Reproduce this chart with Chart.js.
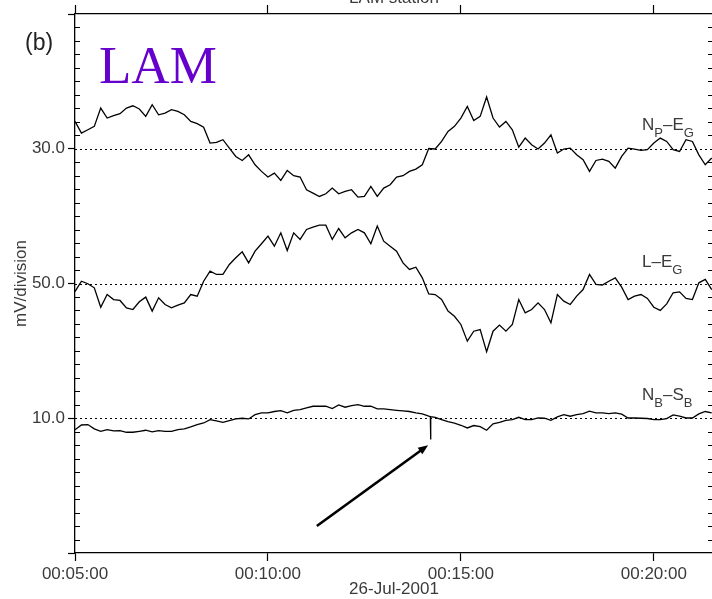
<!DOCTYPE html>
<html>
<head>
<meta charset="utf-8">
<title>LAM station</title>
<script src="https://cdn.jsdelivr.net/npm/chart.js@4.4.0/dist/chart.umd.min.js"></script>
<style>
  html, body { margin: 0; padding: 0; background: #fff; overflow: hidden; }
  #wrap { position: relative; width: 712px; height: 599px; overflow: hidden; }
  #grafico { position: absolute; left: 0; top: 0; }
</style>
</head>
<body>
<div id="wrap"><canvas id="grafico" width="720" height="599"></canvas></div>
<script>
// sample times (seconds after 00:00:00, 26-Jul-2001)
var tempos = [
  300, 310, 320, 330, 340, 350, 360, 370, 380, 390,
  400, 410, 420, 430, 440, 450, 460, 470, 480, 490,
  500, 510, 520, 530, 540, 550, 560, 570, 580, 590,
  600, 610, 620, 630, 640, 650, 660, 670, 680, 690,
  700, 710, 720, 730, 740, 750, 760, 770, 780, 790,
  800, 810, 820, 830, 840, 850, 860, 870, 880, 890,
  900, 910, 920, 930, 940, 950, 960, 970, 980, 990,
  1000, 1010, 1020, 1030, 1040, 1050, 1060, 1070, 1080, 1090,
  1100, 1110, 1120, 1130, 1140, 1150, 1160, 1170, 1180, 1190,
  1200, 1210, 1220, 1230, 1240, 1250, 1260, 1270, 1280, 1290
];

// dipole signals, in divisions away from each trace's baseline
var npEg = [
  2.03, 1.16, 1.41, 1.66, 3.02, 2.28, 2.45, 2.60, 3.02, 3.19,
  2.95, 2.40, 3.27, 2.52, 2.65, 2.90, 2.77, 2.52, 2.03, 1.86,
  1.60, 0.42, 0.47, 0.67, 0.05, -0.57, -0.87, -0.45, -1.19, -1.68,
  -2.10, -1.81, -2.35, -1.61, -2.00, -2.10, -3.04, -3.29, -3.54, -3.34,
  -2.92, -3.34, -3.17, -3.04, -3.59, -3.54, -2.80, -3.54, -2.92, -2.67,
  -2.10, -2.00, -1.68, -1.51, -1.19, 0.02, -0.02, 0.54, 1.29, 1.66,
  2.28, 3.14, 2.10, 2.40, 3.84, 2.28, 1.61, 2.03, 1.41, 0.12,
  0.79, 0.30, -0.02, 0.42, 1.04, -0.32, -0.02, 0.05, -0.45, -0.82,
  -1.68, -0.87, -0.77, -0.94, -1.44, -0.57, 0.05, -0.02, -0.12, -0.07,
  0.42, 0.79, 0.54, -0.07, -0.20, 0.67, 0.54, -0.45, -1.19, -0.69
];
var lEg = [
  -0.60, 0.17, -0.02, -0.32, -1.76, -0.82, -1.19, -1.26, -1.81, -1.93,
  -1.36, -1.01, -2.05, -1.06, -1.56, -1.81, -1.61, -1.44, -0.82, -0.94,
  0.17, 0.92, 0.67, 0.67, 1.41, 1.91, 2.35, 1.53, 2.40, 2.95,
  3.51, 2.77, 3.76, 2.45, 3.76, 3.27, 4.01, 4.18, 4.33, 4.33,
  3.27, 4.08, 3.39, 3.76, 4.01, 3.76, 2.95, 4.26, 3.14, 2.77,
  2.40, 1.53, 1.04, 1.21, 0.42, -0.77, -0.82, -1.19, -2.05, -2.43,
  -3.04, -4.28, -3.54, -3.42, -5.07, -3.54, -3.09, -3.54, -3.04, -1.19,
  -2.18, -1.93, -1.44, -1.93, -2.92, -0.82, -1.31, -1.56, -0.94, -0.45,
  0.67, -0.07, -0.12, 0.17, 0.42, -0.27, -1.19, -0.94, -0.82, -1.11,
  -1.76, -2.00, -1.51, -0.69, -0.62, -1.11, -1.19, 0.05, 0.30, -0.45
];
var nbSb = [
  -0.85, -0.50, -0.47, -0.79, -0.97, -0.84, -0.94, -0.92, -1.04, -1.04,
  -0.97, -0.89, -1.01, -0.92, -0.97, -0.97, -0.84, -0.79, -0.64, -0.47,
  -0.35, -0.10, -0.20, -0.30, -0.17, -0.05, 0.00, -0.05, 0.27, 0.40,
  0.40, 0.50, 0.57, 0.40, 0.59, 0.64, 0.77, 0.89, 0.89, 0.89,
  0.72, 0.99, 0.82, 0.94, 1.01, 0.89, 0.89, 0.69, 0.69, 0.64,
  0.59, 0.54, 0.50, 0.40, 0.32, 0.15, 0.07, -0.10, -0.25, -0.37,
  -0.52, -0.72, -0.54, -0.62, -0.89, -0.42, -0.30, -0.15, -0.10, 0.07,
  -0.10, -0.10, 0.02, 0.00, -0.15, 0.10, 0.27, 0.15, 0.27, 0.35,
  0.52, 0.40, 0.40, 0.35, 0.40, 0.30, 0.02, 0.02, 0.00, -0.02,
  -0.10, -0.10, -0.02, 0.25, 0.15, 0.02, 0.02, 0.32, 0.50, 0.40
];
// short glitch on N_B-S_B
var picoTempos = [852.5, 852.9, 853.3];
var picoValores = [0.12, -1.58, 0.11];

// baselines (axis units) and the mV/division scale shown on each
var linhasBase = [30, 20, 10];
var escalas = ["30.0", "50.0", "10.0"];
var marcasX = [300, 600, 900, 1200];

// arrow pointing at the glitch: [time, axis units]
var setaInicio = [676, 2.0];
var setaFim = [849, 8.0];

const FONTE = "'Liberation Sans', Arial, sans-serif";
const CINZA = "#3a3a3a";

function fmtTempo(s) {
  var h = Math.floor(s / 3600);
  var m = Math.floor((s % 3600) / 60);
  var ss = Math.round(s % 60);
  return [h, m, ss].map(function (n) { return String(n).padStart(2, "0"); }).join(":");
}

function pontos(valores, base, extraT, extraV) {
  var pts = tempos.map(function (t, i) { return { x: t, y: base + valores[i] }; });
  if (extraT) {
    extraT.forEach(function (t, i) { pts.push({ x: t, y: base + extraV[i] }); });
    pts.sort(function (a, b) { return a.x - b.x; });
  }
  return pts;
}

// text with subscripts: parts = [[text, isSub], ...]
function textoSub(ctx, parts, x, y) {
  parts.forEach(function (p) {
    ctx.font = (p[1] ? "13px " : "17px ") + FONTE;
    ctx.fillText(p[0], x, p[1] ? y + 7 : y);
    x += ctx.measureText(p[0]).width;
  });
}

const extras = {
  id: "extras",
  beforeDatasetsDraw(chart) {
    const ctx = chart.ctx;
    const a = chart.chartArea;
    const y = chart.scales.y;
    ctx.save();
    ctx.strokeStyle = "#000";
    ctx.lineWidth = 1;
    ctx.setLineDash([2, 3]);
    linhasBase.forEach(function (b) {
      var py = Math.round(y.getPixelForValue(b)) + 0.5;
      ctx.beginPath();
      ctx.moveTo(a.left, py);
      ctx.lineTo(a.right, py);
      ctx.stroke();
    });
    ctx.restore();
  },
  afterDraw(chart) {
    const ctx = chart.ctx;
    const a = chart.chartArea;
    const x = chart.scales.x;
    const y = chart.scales.y;
    ctx.save();

    // minor ticks inside both vertical axes
    ctx.strokeStyle = "#000";
    ctx.lineWidth = 1;
    for (var v = y.min + 1; v < y.max; v++) {
      if (v % 10 === 0) continue;
      var py = Math.round(y.getPixelForValue(v)) + 0.5;
      ctx.beginPath();
      ctx.moveTo(a.left, py); ctx.lineTo(a.left + 5, py);
      ctx.moveTo(a.right - 5, py); ctx.lineTo(a.right, py);
      ctx.stroke();
    }

    // arrow
    var x0 = x.getPixelForValue(setaInicio[0]), y0 = y.getPixelForValue(setaInicio[1]);
    var x1 = x.getPixelForValue(setaFim[0]), y1 = y.getPixelForValue(setaFim[1]);
    var ang = Math.atan2(y1 - y0, x1 - x0);
    ctx.lineWidth = 2.6;
    ctx.beginPath();
    ctx.moveTo(x0, y0);
    ctx.lineTo(x1 - 6 * Math.cos(ang), y1 - 6 * Math.sin(ang));
    ctx.stroke();
    ctx.fillStyle = "#000";
    ctx.beginPath();
    ctx.moveTo(x1, y1);
    ctx.lineTo(x1 - 10 * Math.cos(ang) + 4 * Math.sin(ang), y1 - 10 * Math.sin(ang) - 4 * Math.cos(ang));
    ctx.lineTo(x1 - 10 * Math.cos(ang) - 4 * Math.sin(ang), y1 - 10 * Math.sin(ang) + 4 * Math.cos(ang));
    ctx.closePath();
    ctx.fill();

    // trace names
    ctx.fillStyle = CINZA;
    ctx.textBaseline = "alphabetic";
    ctx.textAlign = "left";
    var xl = a.right - 71;
    textoSub(ctx, [["N", false], ["P", true], ["\u2013E", false], ["G", true]], xl, y.getPixelForValue(31.4));
    textoSub(ctx, [["L\u2013E", false], ["G", true]], xl, y.getPixelForValue(21.25));
    textoSub(ctx, [["N", false], ["B", true], ["\u2013S", false], ["B", true]], xl, y.getPixelForValue(11.35));

    // station title above the frame
    ctx.font = "17px " + FONTE;
    ctx.textAlign = "center";
    ctx.fillText("LAM station", (a.left + a.right) / 2, 3);

    // panel letter and station name
    ctx.textAlign = "left";
    ctx.fillStyle = "#222";
    ctx.font = "23px " + FONTE;
    ctx.fillText("(b)", 25, 50);
    ctx.fillStyle = "#6600cc";
    ctx.font = "53px 'Liberation Serif', 'Times New Roman', serif";
    ctx.fillText("LAM", 99, 83);
    ctx.restore();
  }
};

function manterMarcas(scale) {
  scale.ticks = marcasX.map(function (v) { return { value: v }; });
}

const grafico = document.getElementById("grafico");
const traco = { borderColor: "#000", borderWidth: 1.3, pointRadius: 0, tension: 0, fill: false };

new Chart(grafico, {
  type: "line",
  data: {
    datasets: [
      Object.assign({ label: "N_P-E_G", data: pontos(npEg, linhasBase[0]) }, traco),
      Object.assign({ label: "L-E_G", data: pontos(lEg, linhasBase[1]) }, traco),
      Object.assign({ label: "N_B-S_B", data: pontos(nbSb, linhasBase[2], picoTempos, picoValores) }, traco),
    ],
  },
  options: {
    responsive: false,
    animation: false,
    devicePixelRatio: 1,
    layout: { padding: { left: 0, right: 7, top: 0, bottom: 0 } },
    plugins: {
      legend: { display: false },
      tooltip: { enabled: false },
    },
    scales: {
      x: {
        type: "linear",
        position: "bottom",
        min: 300,
        max: 1292,
        afterBuildTicks: manterMarcas,
        afterFit: function (s) { s.height = 46; },
        ticks: {
          autoSkip: false,
          maxRotation: 0,
          padding: 3,
          color: CINZA,
          font: { family: FONTE, size: 17 },
          callback: function (v) { return fmtTempo(v); },
        },
        grid: { drawOnChartArea: false, tickLength: 8, tickColor: "#000", tickWidth: 1.2 },
        border: { color: "#000", width: 1.3 },
        title: {
          display: true,
          text: "26-Jul-2001",
          color: CINZA,
          font: { family: FONTE, size: 17 },
          padding: { top: 0, bottom: -1 },
        },
      },
      xTop: {
        type: "linear",
        position: "top",
        min: 300,
        max: 1292,
        afterBuildTicks: manterMarcas,
        afterFit: function (s) { s.height = 14; },
        ticks: { display: false },
        grid: { drawOnChartArea: false, tickLength: 9, tickColor: "#000", tickWidth: 1.2 },
        border: { color: "#000", width: 1.3 },
      },
      y: {
        type: "linear",
        position: "left",
        min: 0,
        max: 40,
        afterFit: function (s) { s.width = 75; },
        ticks: {
          stepSize: 10,
          autoSkip: false,
          padding: 3,
          color: CINZA,
          font: { family: FONTE, size: 17 },
          callback: function (v) {
            var i = linhasBase.indexOf(v);
            return i >= 0 ? escalas[i] : "";
          },
        },
        grid: { drawOnChartArea: false, tickLength: 7, tickColor: "#000", tickWidth: 1.2 },
        border: { color: "#000", width: 1.3 },
        title: {
          display: true,
          text: "mV/division",
          color: CINZA,
          font: { family: FONTE, size: 17 },
          padding: { top: 11, bottom: 0 },
        },
      },
    },
  },
  plugins: [extras],
});
</script>
</body>
</html>
